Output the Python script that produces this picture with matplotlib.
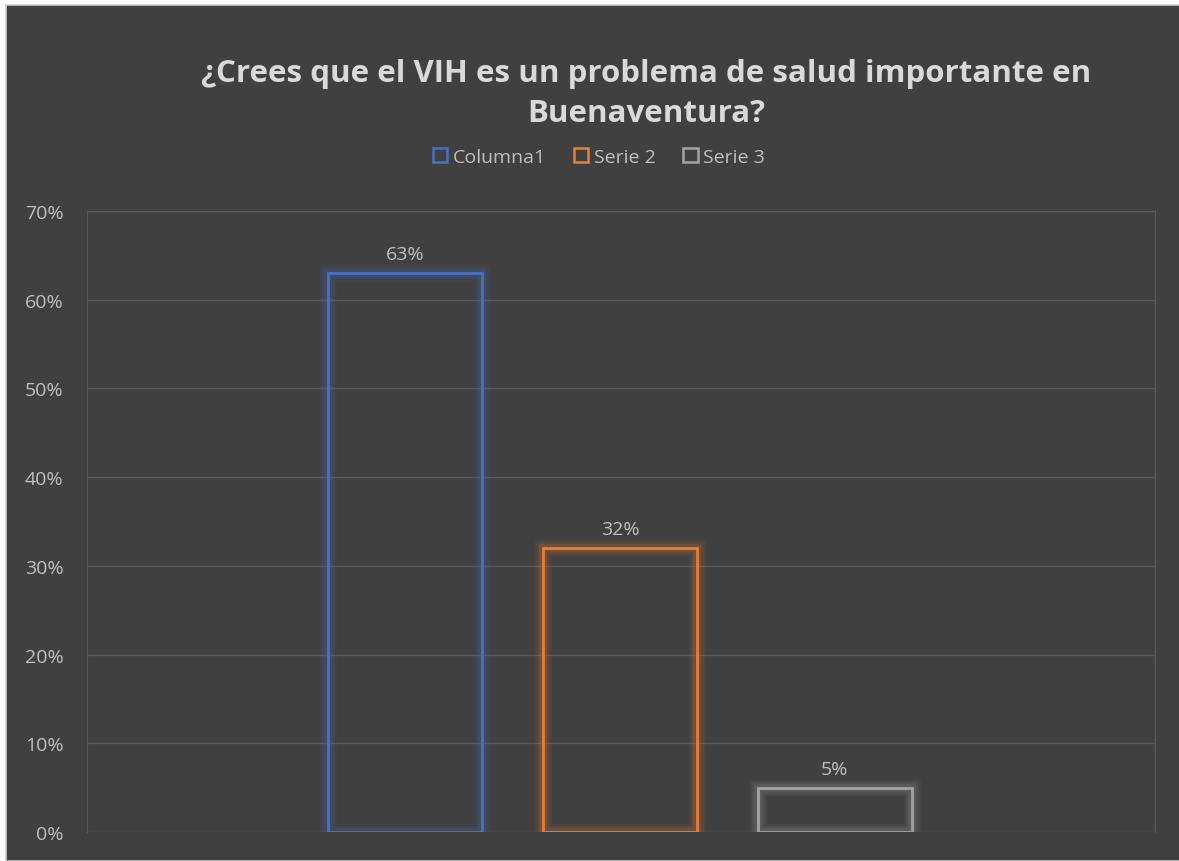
import matplotlib.pyplot as plt
from matplotlib.patches import Rectangle, Patch
from matplotlib.ticker import PercentFormatter

series = ['Columna1', 'Serie 2', 'Serie 3']
values = [63, 32, 5]
colors = ['#4472c4', '#ed7d31', '#a5a5a5']
yticks = [0, 10, 20, 30, 40, 50, 60, 70]

bg = '#404040'
txt = '#bfbfbf'
grid_col = '#595959'

plt.rcParams['font.family'] = ['Open Sans', 'DejaVu Sans']

fig = plt.figure(figsize=(11.79, 8.62), dpi=100, facecolor='white')
# dark chart area with a thin white margin top and left
fig.patches.append(Rectangle((6 / 1179, 0), 1, 1 - 6 / 862, transform=fig.transFigure,
                             facecolor=bg, edgecolor='#d0d0d0', linewidth=1.2, zorder=-10))

ax = fig.add_axes([87 / 1179, 29 / 862, 1068 / 1179, 621 / 862])
ax.set_facecolor(bg)
ax.patch.set_alpha(0)

pos = [-1, 0, 1]
for x, v, c, name in zip(pos, values, colors, series):
    # soft glow behind the outline
    for lw, a in [(12, 0.07), (9, 0.09), (6, 0.13)]:
        ax.bar(x, v, width=0.716, facecolor='none', edgecolor=c, linewidth=lw, alpha=a, zorder=2)
    ax.bar(x, v, width=0.716, facecolor='none', edgecolor=c, linewidth=2, zorder=3, label=name)
    ax.text(x, v + 2.1, f'{v}%', ha='center', va='center', fontsize=14, color=txt)

ax.set_xlim(-2.48, 2.49)
ax.set_ylim(0, 70)
ax.set_yticks(yticks)
ax.yaxis.set_major_formatter(PercentFormatter(decimals=0))
ax.set_xticks([])
ax.tick_params(axis='y', length=0, labelsize=14, labelcolor=txt, pad=17)
ax.grid(axis='y', color=grid_col, linewidth=1)
ax.set_axisbelow(True)
for s in ['left', 'right', 'top']:
    ax.spines[s].set_color(grid_col)
ax.spines['bottom'].set_visible(False)

fig.text(646 / 1179, 1 - 94 / 862,
         '¿Crees que el VIH es un problema de salud importante en\nBuenaventura?',
         ha='center', va='center', fontsize=22.5, fontweight='bold', color='#d9d9d9',
         linespacing=1.45)

handles = [Patch(facecolor='none', edgecolor=c, linewidth=1.8, label=n) for n, c in zip(series, colors)]
fig.legend(handles=handles, loc='center', bbox_to_anchor=(599 / 1179, 1 - 158 / 862), ncol=3,
           frameon=False, fontsize=14, labelcolor=txt, handlelength=0.75, handleheight=0.75,
           handletextpad=0.3, columnspacing=1.4)

fig.savefig('out.png', dpi=100, facecolor=fig.get_facecolor())
